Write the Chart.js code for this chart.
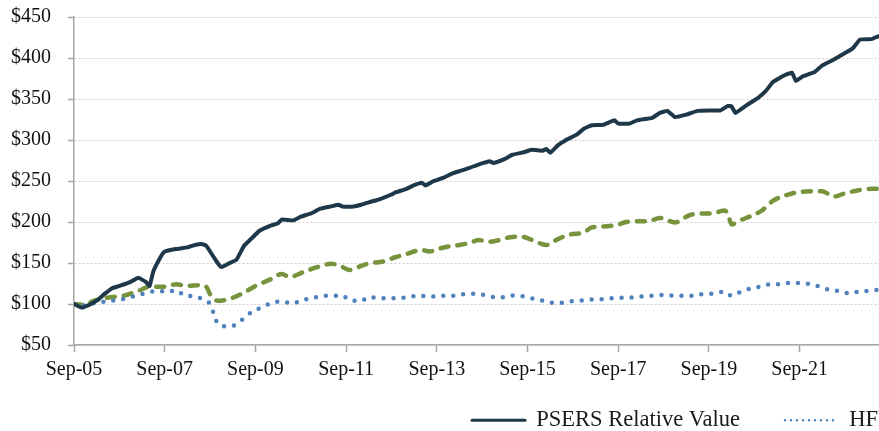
<!DOCTYPE html>
<html>
<head>
<meta charset="utf-8">
<script src="https://cdn.jsdelivr.net/npm/chart.js@4"></script>
<style>
  html, body { margin: 0; padding: 0; background: #fff; overflow: hidden; }
  #wrap { width: 879px; height: 431px; position: relative; }
</style>
</head>
<body>
<div id="wrap"><canvas id="growth"></canvas></div>
<script>
'use strict'

// months counted from Sep-05
const tickMonths = [0, 24, 48, 72, 96, 120, 144, 168, 192]
const tickLabels = ['Sep-05', 'Sep-07', 'Sep-09', 'Sep-11', 'Sep-13', 'Sep-15', 'Sep-17', 'Sep-19', 'Sep-21']

const psersMonths = [0,2,4,6,8,10,12,15,17,19,20,21,23,24,27,30,32,34,35,37,38,39,41,43,45,47,49,52,54,55,58,60,63,65,68,70,71,74,76,78,81,84,85,88,90,92,93,95,98,100,102,105,107,110,111,114,116,119,121,124,125,126,128,130,133,135,137,140,143,144,147,149,153,155,157,159,162,165,168,171,173,174,175,178,181,183,185,188,190,191,193,196,198,201,204,206,208,211,212,213]
const psersValues = [100,95.5,99,104,112,119,122,127,132,127,122,140,158,164,167,169,172,173,171,157,150,145,149.5,154,171,180,189,195.5,198.5,203,202,206.5,211,216,219,221,219,219,221,224,228,233.5,236,240.5,245,248,244.5,249.5,254.5,259,262,266.5,270,274,272,277,282,285,288,287,289,284.5,293.5,299.5,306.5,314,318,318.5,324,320,320,324,327,333,335.5,328,331,335.5,336,336,341.5,341,333,342.5,351.5,359.5,371,379,382,372,378,383,391,398,406,411.5,422.5,423,425,426.5]

const hfriMonths = [0,3,6,9,11,14,17,19,22,25,27,29,32,34,36,37,38,40,43,45,47,50,52,55,58,60,63,66,68,71,73,76,78,81,86,89,92,94,97,100,103,105,108,111,113,116,118,121,124,126,129,131,134,137,140,142,145,148,150,153,156,159,161,164,166,169,172,174,176,179,181,184,187,189,192,195,197,200,203,205,208,210,213]
const hfriValues = [100,98,102,103,105,107,111,113,116,115,117,111,109,106,100,88,76,73,75,83,90,96.5,101,103,100.5,104.5,107,110,110,110,104.5,104,108.5,107,107,109,110,109,110,110,112,112.5,111.5,108.5,108,110.5,110,107,104,101.5,101.5,103,104,105.5,106,107,107.5,108,109,110,111,110,110,110,112,112.5,115,110,114,119,120.5,124,124,125.5,125.5,124,121.5,117,115.5,113,115.5,116,117.5]

const benchMonths = [0,2,6,10,13,17,20,24,27,30,33,35,36,38,41,45,48,52,55,57,61,65,68,70,73,76,78,82,85,88,92,94,97,100,102,105,107,110,115,118,121,125,128,131,135,137,140,144,146,149,152,155,159,163,167,169,172,173,174,176,180,182,185,189,192,196,198,201,204,208,211,213]
const benchValues = [100,99,105,108.5,110,116,121,121,124,122,123,121,112,104,106,114,122,130,136.5,133,139.5,146,149,147.5,141.5,146.5,149.5,152,157,161,166,164,168,171,172,175,178,176,181,182.5,178.5,172,179,184.5,187.5,193.5,194.5,197,200,201,201,205,199.5,208.5,210.5,210.5,214,210,197,201.5,209,214,226,233.5,236.5,237.5,237.5,231,235,239,240.5,240.5]

const seriesNames = ['PSERS Relative Value', 'HFRI Relative Value', 'Benchmark']

const pts = (xs, ys) => xs.map((m, i) => ({x: m, y: ys[i]}))

Chart.defaults.font.family = '"Liberation Serif", "Times New Roman", serif'
Chart.defaults.color = '#1a1a1a'

const axisGrey = '#a6a6a6'

// legend sits under the plot, starting mid-page, and runs off the right edge
const legendPlace = {
  id: 'legendPlace',
  afterLayout(chart) {
    const lg = chart.legend
    const pad = lg.options.labels.padding
    lg.left = 472 - pad
    lg.right = 3000
    lg.top = 409 - pad
    lg.bottom = 600
  }
}

const lineStyles = [
  {color: '#1f3849', width: 4, dash: [], cap: 'round', legendWidth: 3, legendDash: []},
  {color: '#4f81bd', width: 4.5, dash: [0, 10], cap: 'round', legendWidth: 2.5, legendDash: [0, 6]},
  {color: '#77933c', width: 4.5, dash: [8, 9], cap: 'round', legendWidth: 3.5, legendDash: [6, 8]}
]

const data = {
  datasets: [
    {label: seriesNames[0], data: pts(psersMonths, psersValues), tension: 0.1},
    {label: seriesNames[1], data: pts(hfriMonths, hfriValues), cubicInterpolationMode: 'monotone'},
    {label: seriesNames[2], data: pts(benchMonths, benchValues), cubicInterpolationMode: 'monotone'}
  ].map((d, i) => Object.assign(d, {
    borderColor: lineStyles[i].color,
    backgroundColor: lineStyles[i].color,
    borderWidth: lineStyles[i].width,
    borderDash: lineStyles[i].dash,
    borderCapStyle: lineStyles[i].cap,
    borderJoinStyle: 'round',
    pointRadius: 0,
    fill: false
  }))
}

const config = {
  type: 'line',
  data: data,
  options: {
    responsive: true,
    maintainAspectRatio: false,
    animation: false,
    layout: {padding: {left: 11, top: 17, right: 0, bottom: 0}},
    scales: {
      x: {
        type: 'linear',
        min: 0,
        max: 213,
        afterBuildTicks: s => { s.ticks = tickMonths.map(v => ({value: v})) },
        ticks: {
          autoSkip: false,
          maxRotation: 0,
          padding: 6,
          font: {size: 20},
          color: '#111',
          callback: v => tickLabels[tickMonths.indexOf(v)]
        },
        grid: {drawOnChartArea: false, tickLength: 7, tickColor: axisGrey, color: axisGrey, tickWidth: 1.5},
        border: {color: axisGrey, width: 1.5}
      },
      y: {
        min: 50,
        max: 450,
        afterFit: s => { s.width = 63; s.paddingTop = 0; s.paddingBottom = 0 },
        ticks: {
          stepSize: 50,
          padding: 17,
          font: {size: 20},
          color: '#111',
          callback: v => '$' + v
        },
        grid: {color: '#cfcfcf', tickColor: axisGrey, tickLength: 6, tickWidth: 1.5, lineWidth: 1},
        border: {color: axisGrey, width: 1.5, dash: [2, 2]}
      }
    },
    plugins: {
      tooltip: {enabled: false},
      legend: {
        position: 'bottom',
        align: 'start',
        maxHeight: 43,
        labels: {
          usePointStyle: true,
          pointStyle: 'line',
          pointStyleWidth: 53,
          padding: 45,
          font: {size: 22.5},
          color: '#1a1a1a',
          generateLabels: chart => chart.data.datasets.map((ds, i) => ({
            text: ds.label,
            datasetIndex: i,
            strokeStyle: ds.borderColor,
            fillStyle: ds.borderColor,
            lineWidth: lineStyles[i].legendWidth,
            lineDash: lineStyles[i].legendDash,
            lineCap: ds.borderCapStyle,
            pointStyle: 'line',
            fontColor: '#1a1a1a',
            hidden: false
          }))
        }
      }
    }
  },
  plugins: [legendPlace]
}

let growthChart = new Chart(document.querySelector('#growth'), config)
</script>
</body>
</html>
